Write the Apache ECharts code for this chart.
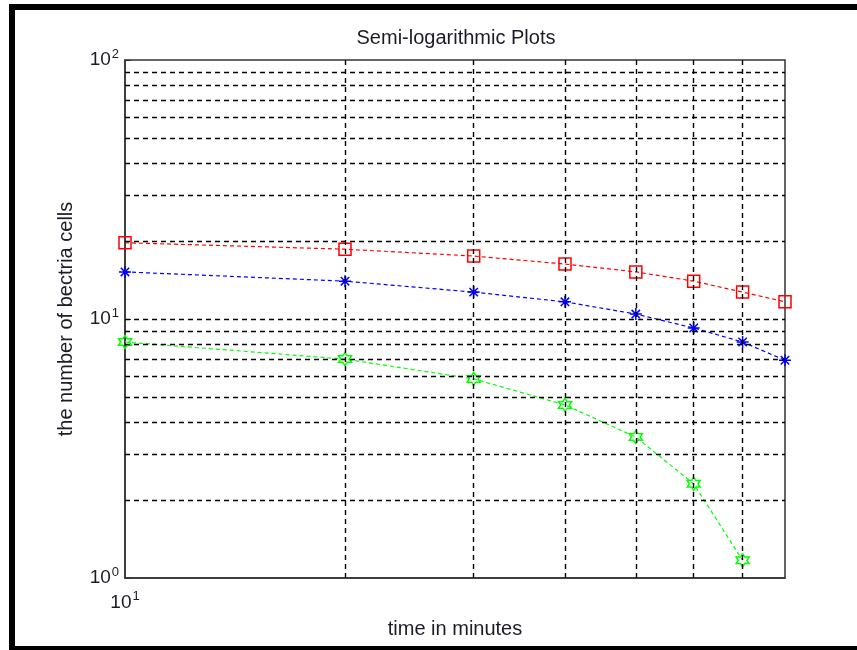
<!DOCTYPE html>
<html>
<head>
<meta charset="utf-8">
<script src="https://cdn.jsdelivr.net/npm/echarts@6/dist/echarts.min.js"></script>
<style>
  html, body { margin: 0; padding: 0; background: #fff; }
  #chart { width: 857px; height: 650px; }
</style>
</head>
<body>
<div id="chart"></div>
<script>
// time values (minutes)
const timeRed = [10, 20, 30, 40, 50, 60, 70, 80]
const timeBlue = [10, 20, 30, 40, 50, 60, 70, 80]
const timeGreen = [10, 20, 30, 40, 50, 60, 70]
// number of cells
const cellsRed = [19.7, 18.6, 17.5, 16.3, 15.2, 14.0, 12.7, 11.65]
const cellsBlue = [15.2, 14.0, 12.7, 11.65, 10.45, 9.23, 8.15, 6.93]
const cellsGreen = [8.15, 7.0, 5.87, 4.66, 3.5, 2.31, 1.17]
// dashed grid positions
const gridX = [20, 30, 40, 50, 60, 70]
const gridY = [2, 3, 4, 5, 6, 7, 8, 9, 10, 20, 30, 40, 50, 60, 70, 80, 90]

const font = 'Liberation Sans, Arial, sans-serif'
const textColor = '#1c1c28'

const asterisk = 'path://M0,-10L0,10M-10,0L10,0M-7,-7L7,7M-7,7L7,-7'
const hexagram = 'path://M0,-10L2.887,-5L8.66,-5L5.774,0L8.66,5L2.887,5L0,10L-2.887,5L-8.66,5L-5.774,0L-8.66,-5L-2.887,-5Z'

const pairs = (xs, ys) => xs.map((x, i) => [x, ys[i]])

const powLabel = (v) => {
  const e = Math.log10(v)
  if (Math.abs(e - Math.round(e)) > 1e-6) return ''
  return '{b|10}{s|' + Math.round(e) + '}'
}
const rich = {
  b: { fontSize: 19, fontFamily: font, color: textColor },
  s: { fontSize: 13, fontFamily: font, color: textColor, padding: [0, 0, 12, 1] },
}

const chart = echarts.init(document.getElementById('chart'))
const dashGrid = { color: '#000', width: 1.4, type: [5, 4] }

const option = {
  animation: false,
  backgroundColor: '#fff',
  title: {
    text: 'Semi-logarithmic Plots',
    left: 451,
    top: 23,
    textAlign: 'center',
    textStyle: { fontFamily: font, fontSize: 20, fontWeight: 'normal', color: textColor },
  },
  grid: {
    left: 125,
    top: 60,
    right: 72,
    bottom: 72,
    show: true,
    borderColor: '#333',
    borderWidth: 1.5,
    backgroundColor: '#fff',
  },
  xAxis: {
    type: 'log',
    logBase: 10,
    min: 10,
    max: 80,
    name: 'time in minutes',
    nameLocation: 'middle',
    nameGap: 41,
    nameTextStyle: { fontFamily: font, fontSize: 20, color: textColor },
    axisLine: { lineStyle: { color: '#333', width: 1.5 } },
    axisTick: { show: false },
    splitLine: { show: false },
    axisLabel: { formatter: powLabel, rich: rich, margin: 12, showMaxLabel: false },
  },
  yAxis: {
    type: 'log',
    logBase: 10,
    min: 1,
    max: 100,
    name: 'the number of bectria cells',
    nameLocation: 'middle',
    nameGap: 49,
    nameTextStyle: { fontFamily: font, fontSize: 20, color: textColor },
    axisLine: { lineStyle: { color: '#333', width: 1.5 } },
    axisTick: { inside: true, length: 6, lineStyle: { color: '#333' } },
    splitLine: { show: false },
    axisLabel: { formatter: powLabel, rich: rich, margin: 6 },
  },
  graphic: [
    { type: 'rect', shape: { x: 9, y: 4, width: 848, height: 6 }, style: { fill: '#000' } },
    { type: 'rect', shape: { x: 9, y: 4, width: 6, height: 646 }, style: { fill: '#000' } },
    { type: 'rect', shape: { x: 9, y: 646, width: 848, height: 4 }, style: { fill: '#000' } },
  ],
  series: [
    {
      type: 'line',
      data: [],
      z: 1,
      silent: true,
      markLine: {
        silent: true,
        symbol: 'none',
        label: { show: false },
        lineStyle: dashGrid,
        data: gridX.map((v) => ({ xAxis: v })).concat(gridY.map((v) => ({ yAxis: v }))),
      },
    },
    {
      type: 'line',
      data: pairs(timeRed, cellsRed),
      symbol: 'rect',
      symbolSize: 12,
      lineStyle: { color: '#ff0000', width: 1.2, type: [4, 3] },
      itemStyle: { color: 'rgba(0,0,0,0)', borderColor: '#ff0000', borderWidth: 1.5 },
      z: 3,
    },
    {
      type: 'line',
      data: pairs(timeBlue, cellsBlue),
      symbol: asterisk,
      symbolSize: 12,
      lineStyle: { color: '#0000ff', width: 1.2, type: [4, 3] },
      itemStyle: { color: '#0000ff', borderColor: '#0000ff', borderWidth: 1.5 },
      z: 3,
    },
    {
      type: 'line',
      data: pairs(timeGreen, cellsGreen),
      symbol: hexagram,
      symbolSize: 13,
      lineStyle: { color: '#00ff00', width: 1.2, type: [4, 3] },
      itemStyle: { color: 'rgba(0,0,0,0)', borderColor: '#00ff00', borderWidth: 1.5 },
      z: 3,
    },
  ],
}

chart.setOption(option)
</script>
</body>
</html>
